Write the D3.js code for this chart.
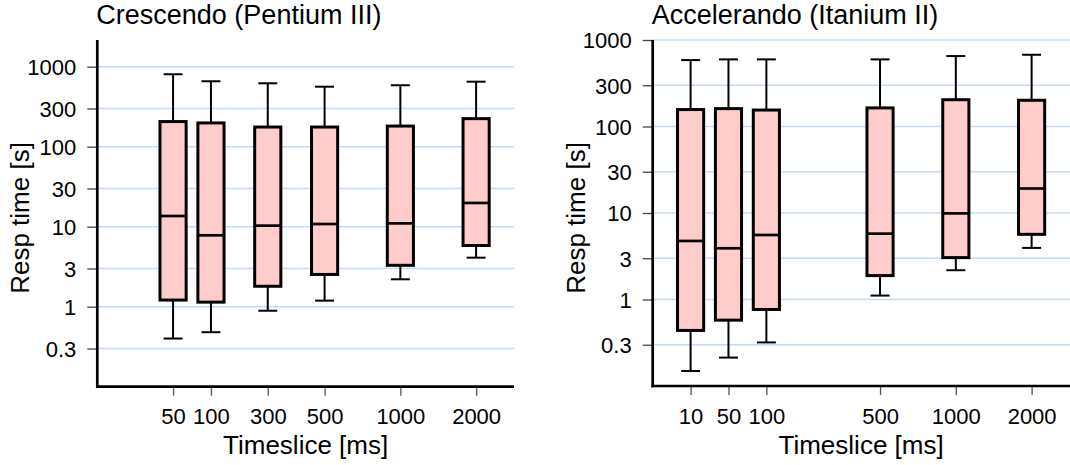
<!DOCTYPE html>
<html>
<head>
<meta charset="utf-8">
<script src="https://cdn.jsdelivr.net/npm/d3@7"></script>
<style>
  html, body { margin: 0; padding: 0; background: #ffffff; }
  svg { display: block; font-family: "Liberation Sans", Arial, Helvetica, sans-serif; }
</style>
</head>
<body>
<svg id="chart" width="1070" height="465"></svg>
<script>
// Response time distributions (box = quartiles, whiskers = extremes), log scale
const yTickValues = [0.3, 1, 3, 10, 30, 100, 300, 1000];

// Crescendo (Pentium III)
const crescendoTimeslices = [50, 100, 300, 500, 1000, 2000];
const crescendoSlots      = [0, 1, 2.5, 4, 6, 8];
const crescendoLow        = [0.40, 0.48, 0.89, 1.19, 2.20, 4.10];
const crescendoQ1         = [1.21, 1.14, 1.80, 2.53, 3.29, 5.82];
const crescendoMedian     = [13.6, 7.8, 10.3, 10.8, 11.0, 19.8];
const crescendoQ3         = [206, 198, 176, 176, 181, 224];
const crescendoHigh       = [804, 657, 620, 562, 586, 649];

// Accelerando (Itanium II)
const accelerandoTimeslices = [10, 50, 100, 500, 1000, 2000];
const accelerandoSlots      = [0, 1, 2, 5, 7, 9];
const accelerandoLow        = [0.149, 0.213, 0.319, 1.11, 2.18, 3.95];
const accelerandoQ1         = [0.439, 0.577, 0.767, 1.89, 3.05, 5.67];
const accelerandoMedian     = [4.75, 3.91, 5.57, 5.77, 9.9, 19.2];
const accelerandoQ3         = [157, 161, 155, 164, 204, 201];
const accelerandoHigh       = [586, 597, 597, 597, 652, 675];

const svg = d3.select("#chart");

const GRID = "#c6daf8";
const BOX_FILL = "#ffcccc";

function drawPanel(p) {
  const x = d3.scaleLinear().domain(p.slotDomain).range([p.left, p.right]);
  const y = d3.scaleLog().domain(p.yDomain).range([p.bottom, p.top]);
  const unit = x(1) - x(0);
  const boxW = unit * 0.69;
  const capW = unit * 0.5;

  const g = svg.append("g");

  // horizontal gridlines
  g.selectAll("line.grid").data(yTickValues).join("line")
    .attr("class", "grid")
    .attr("x1", p.left).attr("x2", p.gridEnd)
    .attr("y1", d => y(d)).attr("y2", d => y(d))
    .attr("stroke", GRID).attr("stroke-width", 1.5);

  // y axis ticks and labels
  const yAxis = d3.axisLeft(y).tickValues(yTickValues)
    .tickFormat(d => String(d)).tickSize(10).tickPadding(11);
  const ya = g.append("g").attr("transform", `translate(${p.left},0)`).call(yAxis);
  ya.select(".domain").remove();
  ya.selectAll(".tick line").attr("stroke", "#444").attr("stroke-width", 1.3);
  ya.selectAll(".tick text").attr("font-size", 22).attr("fill", "#000")
    .attr("font-family", "Liberation Sans, Arial, sans-serif").attr("dy", "0.36em");

  // x axis ticks and labels at box positions
  const xAxis = d3.axisBottom(x).tickValues(p.slots)
    .tickFormat((d, i) => String(p.labels[i])).tickSize(9).tickPadding(13);
  const xa = g.append("g").attr("transform", `translate(0,${p.bottom})`).call(xAxis);
  xa.select(".domain").remove();
  xa.selectAll(".tick line").attr("stroke", "#555").attr("stroke-width", 1.3);
  xa.selectAll(".tick text").attr("font-size", 22).attr("fill", "#000")
    .attr("font-family", "Liberation Sans, Arial, sans-serif").attr("dy", "0.71em");

  const rows = p.slots.map((s, i) => ({
    s, low: p.low[i], q1: p.q1[i], med: p.median[i], q3: p.q3[i], high: p.high[i]
  }));

  const box = g.selectAll("g.box").data(rows).join("g").attr("class", "box");

  // whiskers
  box.append("line")
    .attr("x1", d => x(d.s)).attr("x2", d => x(d.s))
    .attr("y1", d => y(d.q3)).attr("y2", d => y(d.high))
    .attr("stroke", "#000").attr("stroke-width", 2);
  box.append("line")
    .attr("x1", d => x(d.s)).attr("x2", d => x(d.s))
    .attr("y1", d => y(d.q1)).attr("y2", d => y(d.low))
    .attr("stroke", "#000").attr("stroke-width", 2);
  box.append("line")
    .attr("x1", d => x(d.s) - capW / 2).attr("x2", d => x(d.s) + capW / 2)
    .attr("y1", d => y(d.high)).attr("y2", d => y(d.high))
    .attr("stroke", "#000").attr("stroke-width", 2);
  box.append("line")
    .attr("x1", d => x(d.s) - capW / 2).attr("x2", d => x(d.s) + capW / 2)
    .attr("y1", d => y(d.low)).attr("y2", d => y(d.low))
    .attr("stroke", "#000").attr("stroke-width", 2);

  // boxes
  box.append("rect")
    .attr("x", d => x(d.s) - boxW / 2).attr("width", boxW)
    .attr("y", d => y(d.q3)).attr("height", d => y(d.q1) - y(d.q3))
    .attr("fill", BOX_FILL).attr("stroke", "#000").attr("stroke-width", 3);

  // medians
  box.append("line")
    .attr("x1", d => x(d.s) - boxW / 2).attr("x2", d => x(d.s) + boxW / 2)
    .attr("y1", d => y(d.med)).attr("y2", d => y(d.med))
    .attr("stroke", "#000").attr("stroke-width", 2.7);

  // axis lines
  g.append("line").attr("x1", p.left).attr("x2", p.left)
    .attr("y1", p.axisTop).attr("y2", p.bottom + 1.3)
    .attr("stroke", "#000").attr("stroke-width", 2.7);
  g.append("line").attr("x1", p.left - 1.3).attr("x2", p.axisEnd)
    .attr("y1", p.bottom).attr("y2", p.bottom)
    .attr("stroke", "#000").attr("stroke-width", 2.7);

  // title and axis titles
  g.append("text").attr("x", p.left - 1).attr("y", 24)
    .attr("font-size", 27).attr("fill", "#000").text(p.title);
  g.append("text").attr("x", (p.left + p.right) / 2).attr("y", 454)
    .attr("text-anchor", "middle").attr("font-size", 26).attr("fill", "#000")
    .text("Timeslice [ms]");
  g.append("text")
    .attr("transform", `translate(${p.yLabelX},218) rotate(-90)`)
    .attr("text-anchor", "middle").attr("font-size", 26).attr("fill", "#000")
    .text("Resp time [s]");
}

drawPanel({
  title: "Crescendo (Pentium III)",
  labels: crescendoTimeslices, slots: crescendoSlots,
  low: crescendoLow, q1: crescendoQ1, median: crescendoMedian,
  q3: crescendoQ3, high: crescendoHigh,
  slotDomain: [-2, 9], yDomain: [0.1, Math.pow(10, 10 / 3)],
  left: 97.3, right: 514, gridEnd: 514, axisEnd: 514,
  top: 40, axisTop: 40, bottom: 386.7, yLabelX: 29
});

drawPanel({
  title: "Accelerando (Itanium II)",
  labels: accelerandoTimeslices, slots: accelerandoSlots,
  low: accelerandoLow, q1: accelerandoQ1, median: accelerandoMedian,
  q3: accelerandoQ3, high: accelerandoHigh,
  slotDomain: [-1, 10], yDomain: [0.1, 1000],
  left: 652.7, right: 1069.5, gridEnd: 1070, axisEnd: 1070,
  top: 40, axisTop: 40, bottom: 386, yLabelX: 585
});
</script>
</body>
</html>
